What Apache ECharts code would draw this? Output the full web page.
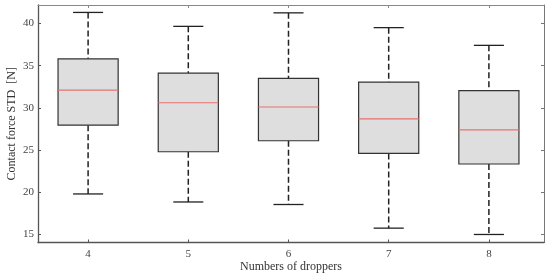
<!DOCTYPE html>
<html>
<head>
<meta charset="utf-8">
<script src="https://cdn.jsdelivr.net/npm/echarts@6/dist/echarts.min.js"></script>
<style>
	html, body { margin: 0; padding: 0; background: #fff; }
	#chart { width: 550px; height: 277px; }
</style>
</head>
<body>
<div id="chart"></div>
<script>
// 数据
var droppers = [4, 5, 6, 7, 8];
var lowerWhisker = [19.8, 18.85, 18.55, 15.75, 15.0];
var q1 = [27.95, 24.8, 26.1, 24.6, 23.35];
var medians = [32.1, 30.6, 30.1, 28.7, 27.4];
var q3 = [35.8, 34.1, 33.5, 33.05, 32.05];
var upperWhisker = [41.3, 39.65, 41.25, 39.5, 37.4];
var yTicks = [15, 20, 25, 30, 35, 40];

var axisColor = '#555';
var serif = '"Liberation Serif", "DejaVu Serif", serif';

var boxData = droppers.map(function (d, i) {
	return [d, lowerWhisker[i], q1[i], medians[i], q3[i], upperWhisker[i]];
});

function renderBox(params, api) {
	var x = api.value(0);
	var half = 0.3;
	var cap = 0.15;
	var pLow = api.coord([x, api.value(1)]);
	var pQ1 = api.coord([x, api.value(2)]);
	var pMed = api.coord([x, api.value(3)]);
	var pQ3 = api.coord([x, api.value(4)]);
	var pUp = api.coord([x, api.value(5)]);
	var left = api.coord([x - half, api.value(3)])[0];
	var right = api.coord([x + half, api.value(3)])[0];
	var capL = api.coord([x - cap, api.value(3)])[0];
	var capR = api.coord([x + cap, api.value(3)])[0];

	var dash = { stroke: '#222', lineWidth: 1.5, lineDash: [6, 3] };
	var solid = { stroke: '#222', lineWidth: 1.3 };

	return {
		type: 'group',
		children: [
			{ type: 'line', shape: { x1: pUp[0], y1: pUp[1], x2: pQ3[0], y2: pQ3[1] }, style: dash },
			{ type: 'line', shape: { x1: pQ1[0], y1: pQ1[1], x2: pLow[0], y2: pLow[1] }, style: dash },
			{ type: 'line', shape: { x1: capL, y1: pUp[1], x2: capR, y2: pUp[1] }, style: solid },
			{ type: 'line', shape: { x1: capL, y1: pLow[1], x2: capR, y2: pLow[1] }, style: solid },
			{
				type: 'rect',
				shape: { x: left, y: pQ3[1], width: right - left, height: pQ1[1] - pQ3[1] },
				style: { fill: '#dedede', stroke: '#333', lineWidth: 1.2 }
			},
			{ type: 'line', shape: { x1: left, y1: pMed[1], x2: right, y2: pMed[1] }, style: { stroke: '#e8706f', lineWidth: 1.2 } }
		]
	};
}

var chart = echarts.init(document.getElementById('chart'), null, { renderer: 'canvas' });

chart.setOption({
	backgroundColor: '#fff',
	animation: false,
	grid: { left: 38, right: 6, top: 5, bottom: 34.5, containLabel: false, outerBoundsMode: 'none' },
	xAxis: [{
		type: 'value',
		min: 3.5,
		max: 8.55,
		name: 'Numbers of droppers',
		nameLocation: 'middle',
		nameGap: 18,
		nameMoveOverlap: false,
		nameTextStyle: { fontFamily: serif, fontSize: 12, color: '#333' },
		axisLine: { lineStyle: { color: axisColor, width: 1.3 } },
		axisTick: { inside: true, length: 3, customValues: droppers, lineStyle: { color: axisColor } },
		axisLabel: { customValues: droppers, fontFamily: serif, fontSize: 11, color: '#444', margin: 6 },
		splitLine: { show: false }
	}, {
		type: 'value',
		position: 'top',
		min: 3.5,
		max: 8.55,
		axisLine: { lineStyle: { color: '#888', width: 1 } },
		axisTick: { inside: true, length: 3, customValues: droppers, lineStyle: { color: '#888' } },
		axisLabel: { show: false },
		splitLine: { show: false }
	}],
	yAxis: [{
		type: 'value',
		min: 14.05,
		max: 42.18,
		name: 'Contact force STD  [N]',
		nameLocation: 'middle',
		nameGap: 20,
		nameMoveOverlap: false,
		nameTextStyle: { fontFamily: serif, fontSize: 12, color: '#333' },
		axisLine: { show: true, lineStyle: { color: axisColor, width: 1.3 } },
		axisTick: { show: true, inside: true, length: 3, customValues: yTicks, lineStyle: { color: axisColor } },
		axisLabel: { customValues: yTicks, fontFamily: serif, fontSize: 11, color: '#444', margin: 4 },
		splitLine: { show: false }
	}, {
		type: 'value',
		position: 'right',
		min: 14.05,
		max: 42.18,
		axisLine: { show: true, lineStyle: { color: '#777', width: 1 } },
		axisTick: { show: true, inside: true, length: 3, customValues: yTicks, lineStyle: { color: '#777' } },
		axisLabel: { show: false },
		splitLine: { show: false }
	}],
	series: [{
		type: 'custom',
		xAxisIndex: 0,
		yAxisIndex: 0,
		renderItem: renderBox,
		encode: { x: 0, y: [1, 2, 3, 4, 5] },
		data: boxData
	}]
});
</script>
</body>
</html>
